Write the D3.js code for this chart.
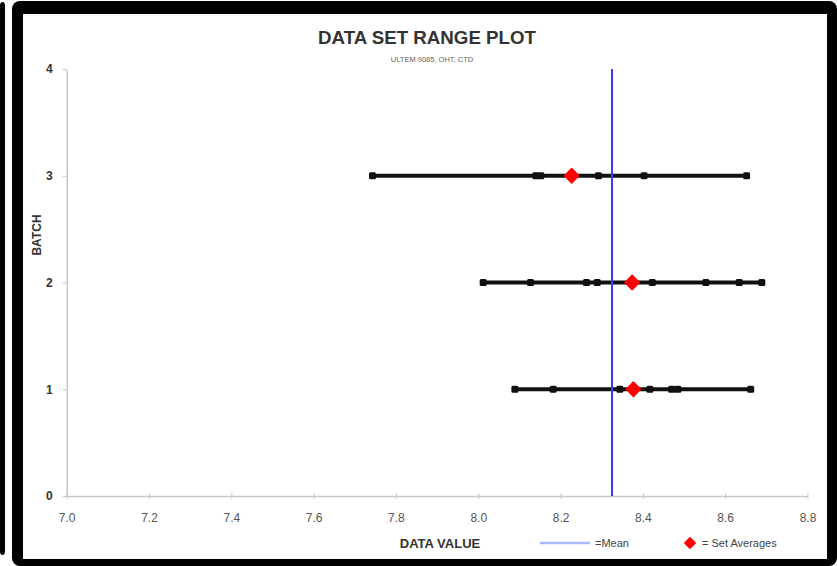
<!DOCTYPE html>
<html>
<head>
<meta charset="utf-8">
<script src="https://cdn.jsdelivr.net/npm/d3@7"></script>
<style>
  html, body { margin: 0; padding: 0; background: #fff; }
  svg { display: block; font-family: "Liberation Sans", Arial, sans-serif; }
</style>
</head>
<body>
<div id="root"></div>
<script>
// data
const batches = [1, 2, 3];
const batchValues = [
  [8.089, 8.182, 8.344, 8.417, 8.47, 8.485, 8.662],
  [8.012, 8.127, 8.263, 8.289, 8.423, 8.553, 8.634, 8.689],
  [7.743, 8.14, 8.152, 8.292, 8.403, 8.652],
];
const setAverages = [8.377, 8.374, 8.227];
const meanValue = 8.325;
const xTicks = [7.0, 7.2, 7.4, 7.6, 7.8, 8.0, 8.2, 8.4, 8.6, 8.8];
const yTicks = [0, 1, 2, 3, 4];

const width = 837;
const height = 566;

const svg = d3
  .select("#root")
  .append("svg")
  .attr("width", width)
  .attr("height", height);

// frame
svg.append("rect")
  .attr("x", 0).attr("y", 2).attr("width", 5).attr("height", 553)
  .attr("rx", 4).attr("fill", "#000");
svg.append("rect")
  .attr("x", 12).attr("y", 1).attr("width", 825).attr("height", 565)
  .attr("rx", 8).attr("fill", "#000");
svg.append("rect")
  .attr("x", 23).attr("y", 14).attr("width", 804).attr("height", 545)
  .attr("fill", "#fff");

const x = d3.scaleLinear().domain([7.0, 8.8]).range([66.7, 807.5]);
const y = d3.scaleLinear().domain([0, 4]).range([496, 69]);

// axes
const xAxis = svg.append("g")
  .attr("transform", `translate(0,${y(0)})`)
  .call(d3.axisBottom(x).tickValues(xTicks).tickFormat(d3.format(".1f")).tickSize(3).tickSizeOuter(0));
xAxis.select(".domain").attr("stroke", "#c8c8c8").attr("stroke-width", 1.5);
xAxis.selectAll(".tick line").attr("stroke", "#c8c8c8").attr("y1", -3).attr("y2", 3);
xAxis.selectAll(".tick text")
  .attr("y", 17)
  .attr("fill", "#555")
  .attr("font-size", 12)
  .attr("font-family", "Liberation Sans, Arial, sans-serif");

const yAxis = svg.append("g")
  .attr("transform", `translate(${x(7.0)},0)`)
  .call(d3.axisLeft(y).tickValues(yTicks).tickFormat(d3.format("d")).tickSize(4).tickSizeOuter(0));
yAxis.select(".domain").attr("stroke", "#c8c8c8").attr("stroke-width", 1.5);
yAxis.selectAll(".tick line").attr("stroke", "#c8c8c8");
yAxis.selectAll(".tick text")
  .attr("x", -14)
  .attr("fill", "#333")
  .attr("font-size", 12)
  .attr("font-weight", "bold")
  .attr("font-family", "Liberation Sans, Arial, sans-serif");

// range bars
const rows = svg.append("g")
  .selectAll("g")
  .data(batches.map((b, i) => ({ batch: b, values: batchValues[i], avg: setAverages[i] })))
  .join("g");

rows.append("line")
  .attr("x1", (d) => x(d3.min(d.values)))
  .attr("x2", (d) => x(d3.max(d.values)))
  .attr("y1", (d) => y(d.batch))
  .attr("y2", (d) => y(d.batch))
  .attr("stroke", "#111")
  .attr("stroke-width", 4);

// mean line sits over the bars
svg.append("line")
  .attr("x1", x(meanValue)).attr("x2", x(meanValue))
  .attr("y1", y(4)).attr("y2", y(0))
  .attr("stroke", "#3a3aff")
  .attr("stroke-width", 2);

rows.selectAll("rect")
  .data((d) => d.values.map((v) => ({ v, batch: d.batch })))
  .join("rect")
  .attr("x", (d) => x(d.v) - 3.5)
  .attr("y", (d) => y(d.batch) - 3.5)
  .attr("width", 7)
  .attr("height", 7)
  .attr("rx", 1.5)
  .attr("fill", "#111");

rows.append("path")
  .attr("d", d3.symbol(d3.symbolDiamond2, 130))
  .attr("transform", (d) => `translate(${x(d.avg)},${y(d.batch)})`)
  .attr("fill", "#ff0000")
  .attr("stroke", "#ff0000")
  .attr("stroke-width", 1.5)
  .attr("stroke-linejoin", "round");

// titles
svg.append("text")
  .attr("x", 427).attr("y", 44)
  .attr("text-anchor", "middle")
  .attr("font-family", "'Liberation Sans Narrow', 'Liberation Sans', Arial, sans-serif")
  .attr("font-size", 18)
  .attr("font-weight", "bold")
  .attr("fill", "#333")
  .attr("textLength", 218)
  .attr("lengthAdjust", "spacingAndGlyphs")
  .text("DATA SET RANGE PLOT");

svg.append("text")
  .attr("x", 432).attr("y", 62)
  .attr("text-anchor", "middle")
  .attr("font-size", 7.5)
  .attr("fill", "#666")
  .text("ULTEM 9085, OHT, CTD");

svg.append("text")
  .attr("transform", "translate(41,235) rotate(-90)")
  .attr("text-anchor", "middle")
  .attr("font-size", 12)
  .attr("font-weight", "bold")
  .attr("fill", "#333")
  .text("BATCH");

svg.append("text")
  .attr("x", 440).attr("y", 548)
  .attr("text-anchor", "middle")
  .attr("font-size", 13)
  .attr("font-weight", "bold")
  .attr("fill", "#333")
  .text("DATA VALUE");

// legend
const legend = svg.append("g");
legend.append("line")
  .attr("x1", 540).attr("x2", 590)
  .attr("y1", 543).attr("y2", 543)
  .attr("stroke", "#a8b8ff")
  .attr("stroke-width", 2.5);
legend.append("text")
  .attr("x", 595).attr("y", 547)
  .attr("font-size", 11)
  .attr("fill", "#444")
  .text("=Mean");
legend.append("path")
  .attr("d", d3.symbol(d3.symbolDiamond2, 100))
  .attr("transform", "translate(690,543)")
  .attr("fill", "#ff0000");
legend.append("text")
  .attr("x", 702).attr("y", 547)
  .attr("font-size", 11)
  .attr("fill", "#444")
  .text("= Set Averages");
</script>
</body>
</html>
